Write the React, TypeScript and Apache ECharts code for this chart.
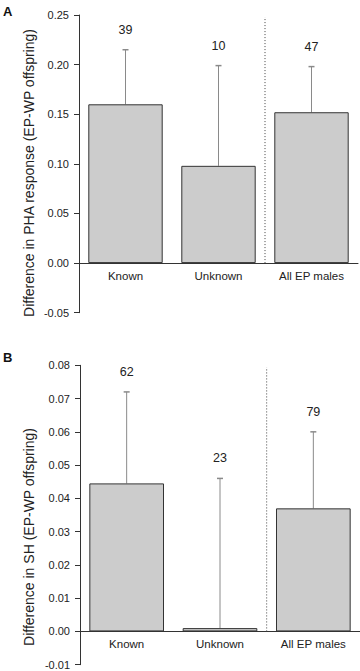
import React, { useEffect, useRef } from 'react';
import * as echarts from 'echarts';

const categories = ['Known', 'Unknown', 'All EP males'];

// Panel A: PHA response
const phaMeans = [0.16, 0.098, 0.152];
const phaUpper = [0.215, 0.199, 0.198];
const phaN = [39, 10, 47];
const phaMin = -0.05;
const phaMax = 0.25;
const phaInterval = 0.05;

// Panel B: SH
const shMeans = [0.0445, 0.001, 0.037];
const shUpper = [0.072, 0.046, 0.06];
const shN = [62, 23, 79];
const shMin = -0.01;
const shMax = 0.08;
const shInterval = 0.01;

const FONT = '"Liberation Sans", Arial, Helvetica, sans-serif';

const gridA = { left: 79, top: 15, width: 279, height: 297.7 };
const gridB = { left: 80, top: 365.3, width: 280, height: 299.4 };

function errorRender(params: any, api: any) {
  const x = api.value(0);
  const lo = api.coord([x, api.value(1)]);
  const hi = api.coord([x, api.value(2)]);
  return {
    type: 'group',
    children: [
      { type: 'line', shape: { x1: lo[0], y1: lo[1], x2: hi[0], y2: hi[1] }, style: { stroke: '#8a8a8a', lineWidth: 1 } },
      { type: 'line', shape: { x1: hi[0] - 3, y1: hi[1], x2: hi[0] + 3, y2: hi[1] }, style: { stroke: '#8a8a8a', lineWidth: 1.5 } },
      {
        type: 'text',
        x: hi[0],
        y: hi[1] - 20,
        style: {
          text: String(api.value(3)),
          align: 'center',
          verticalAlign: 'middle',
          textAlign: 'center',
          textVerticalAlign: 'middle',
          fontSize: 12.5,
          fontFamily: FONT,
          fill: '#222',
        },
      },
    ],
  };
}

function sepRender(params: any, api: any) {
  const i = api.value(0);
  const base = api.coord([i, api.value(1)]);
  const top = api.coord([i, api.value(2)]);
  const half = api.size([1, 0])[0] / 2;
  const x = base[0] + half;
  return {
    type: 'line',
    shape: { x1: x, y1: base[1], x2: x, y2: top[1] + 2 },
    style: { stroke: '#444', lineWidth: 1, lineDash: [1, 2] },
  };
}

function makeX(gridIndex: number, grid: any, min: number, max: number) {
  // move the category axis (line + labels) up to the zero line
  const zeroFromBottom = (grid.height * (0 - min)) / (max - min);
  return {
    type: 'category',
    gridIndex,
    data: categories,
    position: 'bottom',
    offset: -zeroFromBottom,
    axisLine: { onZero: false, lineStyle: { color: '#333', width: 1 } },
    axisTick: { show: false },
    axisLabel: { color: '#222', fontSize: 11.5, fontFamily: FONT, margin: 7 },
    splitLine: { show: false },
  };
}

function makeY(gridIndex: number, min: number, max: number, interval: number) {
  return {
    type: 'value',
    gridIndex,
    min,
    max,
    interval,
    axisLine: { show: true, lineStyle: { color: '#333', width: 1 } },
    axisTick: { show: true, length: 5, lineStyle: { color: '#333' } },
    axisLabel: {
      color: '#222',
      fontSize: 11,
      fontFamily: FONT,
      margin: 10,
      formatter: (v: number) => v.toFixed(2),
    },
    splitLine: { show: false },
  };
}

export default function App() {
  const ref = useRef<HTMLDivElement>(null);
  useEffect(() => {
    document.body.style.margin = '0';
    if (!ref.current) return;
    const chart = echarts.init(ref.current, null, { renderer: 'svg' });
    const barStyle = { color: '#cccccc', borderColor: '#333', borderWidth: 1 };
    chart.setOption({
      animation: false,
      backgroundColor: '#ffffff',
      grid: [gridA, gridB],
      xAxis: [makeX(0, gridA, phaMin, phaMax), makeX(1, gridB, shMin, shMax)],
      yAxis: [makeY(0, phaMin, phaMax, phaInterval), makeY(1, shMin, shMax, shInterval)],
      series: [
        { type: 'bar', xAxisIndex: 0, yAxisIndex: 0, data: phaMeans, barWidth: '80%', itemStyle: barStyle },
        { type: 'bar', xAxisIndex: 1, yAxisIndex: 1, data: shMeans, barWidth: '80%', itemStyle: barStyle },
        {
          type: 'custom', xAxisIndex: 0, yAxisIndex: 0, renderItem: errorRender,
          data: categories.map((c, i) => [i, phaMeans[i], phaUpper[i], phaN[i]]),
        },
        {
          type: 'custom', xAxisIndex: 1, yAxisIndex: 1, renderItem: errorRender,
          data: categories.map((c, i) => [i, shMeans[i], shUpper[i], shN[i]]),
        },
        { type: 'custom', xAxisIndex: 0, yAxisIndex: 0, renderItem: sepRender, data: [[1, 0, phaMax]] },
        { type: 'custom', xAxisIndex: 1, yAxisIndex: 1, renderItem: sepRender, data: [[1, 0, shMax]] },
      ],
      graphic: [
        { type: 'text', left: 3, top: 5, style: { text: 'A', font: `bold 13px ${FONT}`, fill: '#111' } },
        { type: 'text', left: 3, top: 351, style: { text: 'B', font: `bold 13px ${FONT}`, fill: '#111' } },
        {
          type: 'text', x: 29, y: 173, rotation: Math.PI / 2,
          style: {
            text: 'Difference in PHA response (EP-WP offspring)', fontSize: 14, fontFamily: FONT, fill: '#222',
            align: 'center', verticalAlign: 'middle', textAlign: 'center', textVerticalAlign: 'middle',
          },
        },
        {
          type: 'text', x: 29, y: 537, rotation: Math.PI / 2,
          style: {
            text: 'Difference in SH (EP-WP offspring)', fontSize: 14, fontFamily: FONT, fill: '#222',
            align: 'center', verticalAlign: 'middle', textAlign: 'center', textVerticalAlign: 'middle',
          },
        },
      ],
    });
    return () => chart.dispose();
  }, []);
  return <div ref={ref} style={{ width: 360, height: 671 }} />;
}
